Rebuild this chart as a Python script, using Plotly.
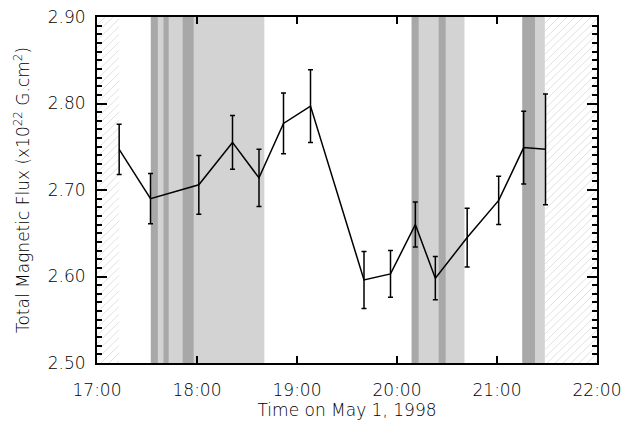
import datetime as dt
import plotly.graph_objects as go

DATE = "1998-05-01 "

# data points (time, flux, error)
times = ["17:13:18", "17:32:06", "18:01:06", "18:21:18", "18:37:12", "18:51:54",
         "19:08:06", "19:40:12", "19:56:06", "20:11:00", "20:23:00", "20:42:06",
         "21:01:00", "21:16:00", "21:29:06"]
flux = [2.747, 2.690, 2.706, 2.755, 2.714, 2.777, 2.797, 2.596, 2.603, 2.660,
        2.598, 2.645, 2.688, 2.749, 2.747]
flux_err = [0.029, 0.029, 0.034, 0.031, 0.033, 0.035, 0.042, 0.033, 0.027, 0.026,
            0.025, 0.034, 0.028, 0.042, 0.064]

# shaded intervals
light_start = ["17:32:18", "20:08:48", "21:15:12"]
light_end = ["18:40:24", "20:40:30", "21:28:42"]
dark_start = ["17:32:18", "17:39:54", "17:51:24", "20:08:48", "20:25:00", "21:15:12"]
dark_end = ["17:36:30", "17:43:00", "17:58:00", "20:13:00", "20:29:12", "21:22:48"]
hatch_start = ["17:00:00", "21:28:42"]
hatch_end = ["17:13:18", "22:00:00"]

y_range = [2.50, 2.90]
x_range = ["17:00:00", "22:00:00"]


def ts(s):
    return dt.datetime.fromisoformat(DATE + s)


fig = go.Figure()


def band_bars(starts, ends, color):
    centers = [ts(s) + (ts(e) - ts(s)) / 2 for s, e in zip(starts, ends)]
    widths = [(ts(e) - ts(s)).total_seconds() * 1000 for s, e in zip(starts, ends)]
    fig.add_trace(go.Bar(
        x=centers, y=[y_range[1] - y_range[0]] * len(centers), base=y_range[0],
        width=widths, marker=dict(color=color, line=dict(width=0)),
        showlegend=False, hoverinfo="skip"))


band_bars(light_start, light_end, "#d3d3d3")
band_bars(dark_start, dark_end, "#a8a8a8")

# diagonal hatching of the "no data" intervals (decoration built from the intervals)
t_base = ts(x_range[0])
t_span = (ts(x_range[1]) - t_base).total_seconds()
plot_w, plot_h = 502.0, 356.0     # approx. plot area size used only for a 45-degree look
step = 8.0
hx, hy = [], []
for s, e in zip(hatch_start, hatch_end):
    x0 = (ts(s) - t_base).total_seconds() / t_span * plot_w
    x1 = (ts(e) - t_base).total_seconds() / t_span * plot_w
    c = -plot_h
    while c < plot_w:
        xa = max(x0, c)
        xb = min(x1, c + plot_h)
        if xb > xa:
            for xp in (xa, xb):
                yp = xp - c
                hx.append(t_base + dt.timedelta(seconds=xp / plot_w * t_span))
                hy.append(y_range[0] + yp / plot_h * (y_range[1] - y_range[0]))
            hx.append(None)
            hy.append(None)
        c += step
fig.add_trace(go.Scatter(x=hx, y=hy, mode="lines", line=dict(color="#e0e0e0", width=1),
                         showlegend=False, hoverinfo="skip"))

fig.add_trace(go.Scatter(
    x=[DATE + t for t in times], y=flux, mode="lines",
    line=dict(color="black", width=1.5),
    error_y=dict(type="data", array=flux_err, color="black", thickness=1.5, width=2.5),
    showlegend=False))

font = dict(family="DejaVu Sans", size=17, color="black", weight=200)

fig.update_layout(
    width=629, height=425,
    margin=dict(l=97, r=30, t=7, b=62),
    paper_bgcolor="white", plot_bgcolor="white",
    barmode="overlay",
    font=font,
    xaxis=dict(
        type="date", range=[DATE + x_range[0], DATE + x_range[1]],
        dtick=3600000, tickformat="%H:%M",
        ticks="inside", ticklen=7, tickwidth=1.5, tickcolor="black",
        showline=True, linecolor="black", linewidth=2, mirror="ticks",
        showgrid=False, zeroline=False, ticklabelstandoff=11, ticklabeloverflow="allow",
        tickfont=font,
        title=dict(text="Time on May 1, 1998", standoff=5, font=font),
    ),
    yaxis=dict(
        range=y_range, dtick=0.1, tickformat=".2f",
        ticks="inside", ticklen=10, tickwidth=1.5, tickcolor="black",
        minor=dict(dtick=0.01, ticks="inside", ticklen=5, tickwidth=1.5, tickcolor="black"),
        showline=True, linecolor="black", linewidth=2, mirror="ticks",
        showgrid=False, zeroline=False, ticklabelstandoff=6, ticklabeloverflow="allow",
        tickfont=font,
        title=dict(text="Total Magnetic Flux (x10<sup>22</sup> G.cm<sup>2</sup>)", standoff=14, font=font),
    ),
)

fig.write_html("out.html")
